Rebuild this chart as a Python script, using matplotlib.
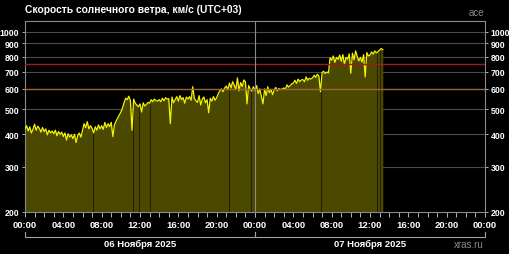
import numpy as np
import matplotlib
matplotlib.use('Agg')
import matplotlib.pyplot as plt
import matplotlib.dates as mdates
from datetime import datetime, timedelta

# solar wind speed, km/s, 10-minute steps starting 06 Nov 2025 00:00 (UTC+03)
speed = [
    420, 432, 412, 428, 405, 418,   # 00h
    438, 415, 430, 422, 408, 425,
    410, 420, 398, 415, 405, 412,
    402, 415, 395, 410, 400, 408,
    392, 405, 380, 402, 390, 398,   # 04h
    385, 400, 372, 395, 405, 390,
    415, 440, 425, 448, 420, 432,
    422, 405, 428, 415, 435, 420,
    432, 418, 445, 425, 440, 428,   # 08h
    445, 392, 436, 450, 462, 475,
    488, 505, 530, 552, 545, 562,
    540, 415, 548, 528, 520, 512,
    525, 488, 530, 515, 522, 532,   # 12h
    528, 545, 535, 548, 540, 538,
    545, 535, 552, 540, 555, 548,
    550, 440, 558, 530, 545, 560,
    538, 565, 545, 555, 528, 558,   # 16h
    548, 560, 542, 612, 552, 540,
    532, 565, 520, 548, 558, 530,
    545, 485, 552, 538, 560, 542,
    555, 575, 590, 600, 585, 605,   # 20h
    615, 598, 632, 605, 640, 620,
    598, 662, 590, 635, 612, 650,
    640, 525, 618, 600, 588, 612,
    592, 618, 575, 600, 560, 525,   # 00h 07 Nov
    600, 565, 612, 580, 598, 570,
    595, 608, 590, 602, 596, 600,
    605, 598, 622, 610, 618, 628,
    632, 648, 630, 655, 640, 650,   # 04h
    652, 640, 668, 648, 660, 655,
    662, 678, 665, 684, 672, 585,
    695, 702, 688, 698, 692, 792,
    775, 805, 760, 795, 780, 812,   # 08h
    768, 815, 745, 795, 782, 820,
    690, 825, 778, 842, 800, 770,
    795, 762, 815, 668, 830, 805,
    812, 835, 818, 842, 828, 838,   # 12h
    848, 860, 852,
]

# data gaps (hours after start)
gap_hours = [7.05, 11.3, 11.9, 13.0, 21.3, 23.55, 30.9, 36.7, 37.0]

thresholds = [600, 750]
threshold_colors = ['#9a6434', '#a01c1c']
y_ticks = [200, 300, 400, 500, 600, 700, 800, 900, 1000]
day_labels = ['06 Ноября 2025', '07 Ноября 2025']

start = datetime(2025, 11, 6)
hours = np.arange(len(speed)) / 6.0
times = [start + timedelta(hours=float(h)) for h in hours]
gap_times = [start + timedelta(hours=h) for h in gap_hours]
gap_vals = np.interp(gap_hours, hours, speed)

plt.rcParams['font.family'] = ['Liberation Sans', 'DejaVu Sans']
plt.rcParams['font.weight'] = 'bold'

fig = plt.figure(figsize=(5.1, 2.55), dpi=100, facecolor='black')
ax = fig.add_axes([25 / 510, 42 / 255, 460 / 510, 191 / 255])
ax.set_facecolor('black')

for y in y_ticks:
    ax.axhline(y, color='#4a4a4a', lw=0.8, zorder=1)
ax.axvline(start + timedelta(days=1), color='#8a8a8a', lw=0.8, zorder=5)

ax.fill_between(times, 150, speed, color='#4b4900', lw=0, zorder=2)
ax.vlines(gap_times, 150, gap_vals, color='#242200', lw=0.8, zorder=3)
ax.plot(times, speed, color='#f4f400', lw=0.9, zorder=4)

for t, c in zip(thresholds, threshold_colors):
    ax.axhline(t, color=c, lw=1.0, zorder=4.5)

ax.set_yscale('log')
ax.set_ylim(200, 1100)
ax.set_xlim(start, start + timedelta(days=2))
ax.yaxis.set_major_locator(matplotlib.ticker.FixedLocator(y_ticks))
ax.yaxis.set_major_formatter(matplotlib.ticker.FixedFormatter([str(v) for v in y_ticks]))
ax.yaxis.set_minor_locator(matplotlib.ticker.NullLocator())

ax.xaxis.set_major_locator(mdates.HourLocator(byhour=range(0, 24, 4)))
ax.xaxis.set_minor_locator(mdates.HourLocator())
ax.xaxis.set_major_formatter(mdates.DateFormatter('%H:%M'))

for s in ax.spines.values():
    s.set_color('#8a8a8a')
    s.set_linewidth(0.8)

ax.tick_params(axis='x', which='both', colors='#b0b0b0', length=3.5, width=0.7,
               labelcolor='white', labelsize=6.8, pad=2.5)
ax.tick_params(axis='y', which='both', colors='#b0b0b0', length=2.5, width=0.7,
               labelcolor='white', labelsize=6.3, pad=1.5, right=True, labelright=True)
for lab in ax.get_xticklabels() + ax.get_yticklabels():
    lab.set_fontweight('bold')

# day brackets below the axis
tr = ax.get_xaxis_transform()
for i, lab in enumerate(day_labels):
    d0 = start + timedelta(days=i)
    d1 = d0 + timedelta(days=1)
    ax.plot([d0, d0, d1, d1], [-0.105, -0.131, -0.131, -0.105], transform=tr,
            color='#a0a0a0', lw=0.8, clip_on=False)
    ax.text(d0 + timedelta(hours=12), -0.165, lab, transform=tr, ha='center', va='center',
            color='white', fontsize=6.8, fontweight='bold')

fig.text(25 / 510, 1 - 10 / 255, 'Скорость солнечного ветра, км/с (UTC+03)', color='white',
         fontsize=7.4, fontweight='bold', ha='left', va='center')
fig.text(484 / 510, 1 - 13 / 255, 'ace', color='#8a8a8a', fontsize=7, ha='right', va='center',
         fontweight='normal')
fig.text(484 / 510, 1 - 245 / 255, 'xras.ru', color='#8a8a8a', fontsize=7, ha='right', va='center',
         fontweight='normal')

fig.savefig('out.png', dpi=100, facecolor='black')
